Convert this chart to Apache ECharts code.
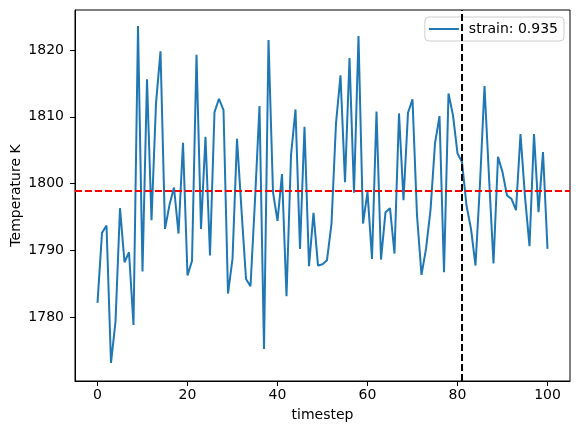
<!DOCTYPE html>
<html>
<head>
<meta charset="utf-8">
<script src="https://cdn.jsdelivr.net/npm/echarts@6/dist/echarts.min.js"></script>
<style>
  html, body { margin: 0; padding: 0; background: #fff; }
</style>
</head>
<body>
<div id="chart" style="width: 581px; height: 433px;"></div>
<script>
// temperature per timestep (0..100)
const timesteps = Array.from({length: 101}, (_, i) => i);
const temperature = [
  1782.1, 1792.6, 1793.7, 1773.1, 1779.3, 1796.3, 1788.2, 1789.7, 1778.8, 1823.6,
  1786.8, 1815.6, 1794.5, 1812.0, 1819.8, 1793.2, 1796.8, 1799.4, 1792.5, 1806.1,
  1786.2, 1788.4, 1819.3, 1793.2, 1807.0, 1789.2, 1810.7, 1812.7, 1811.0, 1783.5,
  1788.7, 1806.7, 1796.0, 1785.7, 1784.6, 1797.5, 1811.6, 1775.2, 1821.5, 1798.7,
  1794.4, 1801.4, 1783.1, 1804.2, 1811.1, 1790.2, 1808.5, 1787.6, 1795.6, 1787.7,
  1787.9, 1788.5, 1794.0, 1809.0, 1816.2, 1800.2, 1818.8, 1798.6, 1822.1, 1794.0,
  1798.7, 1788.7, 1810.8, 1788.6, 1795.7, 1796.3, 1789.5, 1810.5, 1797.5, 1810.6,
  1812.6, 1795.2, 1786.3, 1790.2, 1796.0, 1806.0, 1810.1, 1786.7, 1813.5, 1810.2,
  1804.5, 1803.2, 1796.7, 1793.2, 1787.7, 1800.0, 1814.6, 1801.0, 1788.0, 1804.0,
  1801.7, 1798.2, 1797.7, 1796.0, 1807.4, 1798.0, 1790.6, 1807.4, 1795.7, 1804.7,
  1790.2
];
const meanTemp = 1798.9;
const markStep = 81;
const xTicks = [0, 20, 40, 60, 80, 100];
const yTicks = [1780, 1790, 1800, 1810, 1820];
const seriesName = 'strain: 0.935';

const font = 'DejaVu Sans';
const fs = 14;

var option = {
  animation: false,
  textStyle: { fontFamily: font },
  grid: {
    left: 75, right: 11, top: 10, bottom: 52,
    show: true, borderColor: '#000', borderWidth: 1,
    outerBoundsMode: 'none'
  },
  legend: {
    data: [{ name: seriesName, icon: 'rect' }],
    right: 17, top: 17,
    padding: [5, 6, 5, 4],
    itemWidth: 30, itemHeight: 2,
    backgroundColor: 'rgba(255,255,255,0.8)',
    borderColor: '#cccccc', borderWidth: 1, borderRadius: 4,
    textStyle: { fontFamily: font, fontSize: fs, color: '#000', padding: [0, 0, 0, 5] }
  },
  xAxis: {
    type: 'value',
    min: -5, max: 105,
    name: 'timestep',
    nameLocation: 'middle',
    nameGap: 27,
    nameMoveOverlap: false,
    nameTextStyle: { fontFamily: font, fontSize: fs, color: '#000' },
    axisLine: { show: true, onZero: false, lineStyle: { color: '#000', width: 1 } },
    axisTick: { show: true, length: 5, lineStyle: { color: '#000' }, customValues: xTicks },
    axisLabel: { customValues: xTicks, margin: 7, fontSize: fs, color: '#000', fontFamily: font },
    splitLine: { show: false }
  },
  yAxis: {
    type: 'value',
    min: 1770.4, max: 1826.0,
    name: 'Temperature K',
    nameLocation: 'middle',
    nameGap: 52,
    nameMoveOverlap: false,
    nameTextStyle: { fontFamily: font, fontSize: fs, color: '#000' },
    axisLine: { show: true, onZero: false, lineStyle: { color: '#000', width: 1 } },
    axisTick: { show: true, length: 5, lineStyle: { color: '#000' }, customValues: yTicks },
    axisLabel: {
      customValues: yTicks, margin: 11, fontSize: fs, color: '#000', fontFamily: font,
      formatter: v => String(v)
    },
    splitLine: { show: false }
  },
  series: [
    {
      name: seriesName,
      type: 'line',
      data: timesteps.map((t, i) => [t, temperature[i]]),
      symbol: 'none',
      showSymbol: false,
      color: '#1f77b4',
      lineStyle: { color: '#1f77b4', width: 2 },
      markLine: {
        silent: true,
        symbol: ['none', 'none'],
        label: { show: false },
        data: [
          { yAxis: meanTemp, lineStyle: { color: '#ff0000', width: 2, type: [7, 3] } },
          { xAxis: markStep, lineStyle: { color: '#000000', width: 2, type: [7, 3] } }
        ]
      }
    }
  ]
};

const chartInstance = echarts.init(document.getElementById('chart'));
chartInstance.setOption(option);
</script>
</body>
</html>
